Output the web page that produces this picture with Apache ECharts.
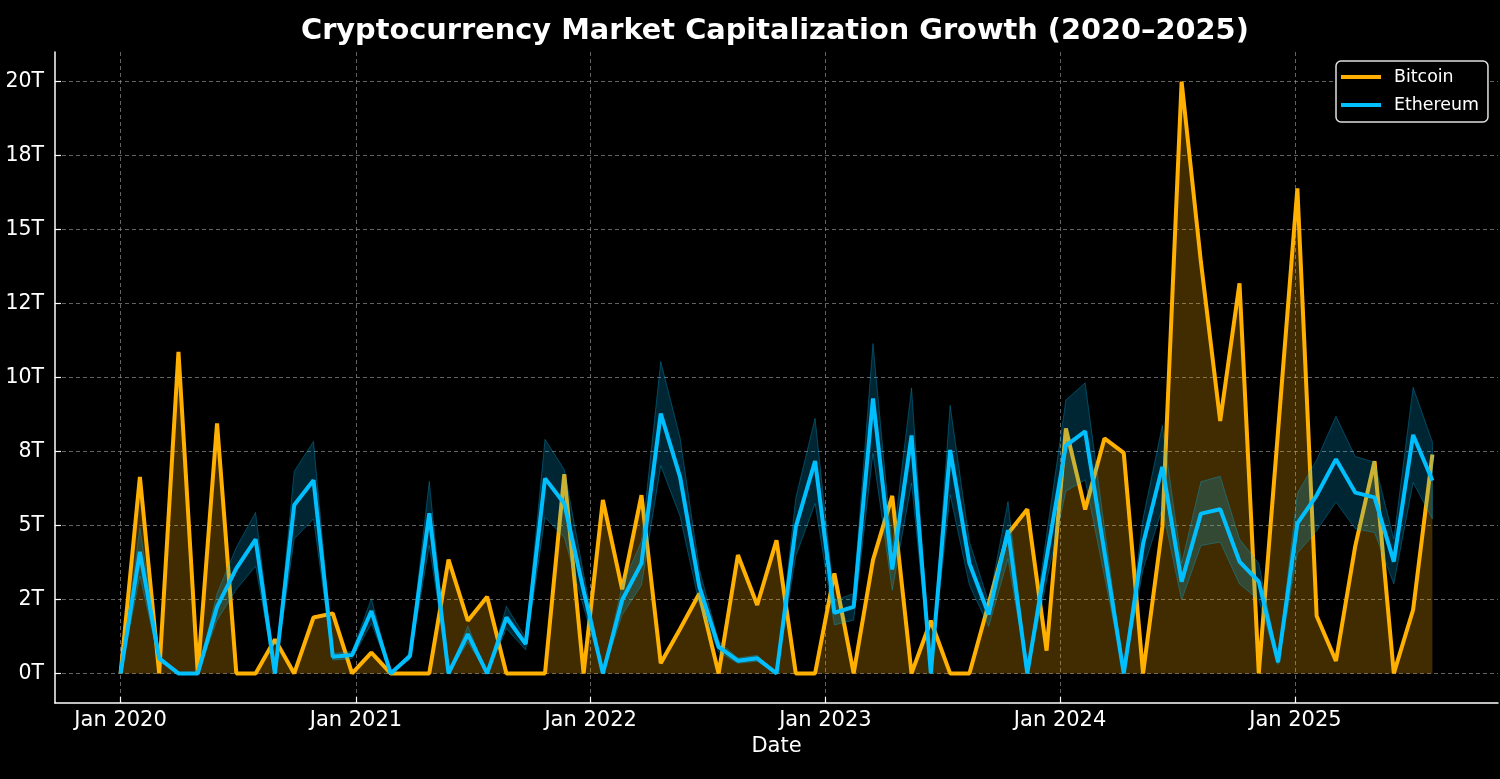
<!DOCTYPE html>
<html>
<head>
<meta charset="utf-8">
<script src="https://cdn.jsdelivr.net/npm/echarts@6/dist/echarts.min.js"></script>
<style>
html,body{margin:0;padding:0;background:#000;}
#chart{width:1500px;height:779px;}
</style>
</head>
<body>
<div id="chart"></div>
<script>
// ---- Data (samples 30 days apart, starting 2020-01-01) ----
const startDate = '2020-01-01';
const stepDays = 30;

const bitcoin = [0, 6.64, 0, 10.87, 0, 8.45, 0, 0, 1.15, 0, 1.89, 2.03, 0, 0.70, 0,
  0, 0, 3.85, 1.78, 2.59, 0, 0, 0, 6.73, 0, 5.86, 2.84, 6.02, 0.34, 1.5,
  2.70, 0, 4.0, 2.31, 4.5, 0, 0, 3.38, 0, 3.83, 6.0, 0, 1.78, 0, 0,
  2.36, 4.73, 5.55, 0.77, 8.28, 5.54, 7.94, 7.45, 0, 4.95, 20.0, 13.9, 8.53, 13.18, 0,
  8.2, 16.39, 1.94, 0.42, 4.3, 7.17, 0, 2.15, 7.4];

const ethereum = [0, 4.11, 0.51, 0, 0, 2.25, 3.55, 4.53, 0, 5.69, 6.53, 0.56, 0.62, 2.11, 0,
  0.59, 5.41, 0, 1.33, 0, 1.89, 0.99, 6.59, 5.74, 2.8, 0, 2.48, 3.72, 8.78, 6.64,
  2.93, 0.90, 0.43, 0.51, 0, 4.95, 7.18, 2.05, 2.25, 9.29, 3.51, 8.04, 0, 7.55, 3.72,
  1.99, 4.84, 0, 3.9, 7.7, 8.18, 4.1, 0, 4.37, 6.98, 3.1, 5.4, 5.55, 3.78, 3.1,
  0.38, 5.07, 6.02, 7.24, 6.11, 5.95, 3.78, 8.06, 6.52];

const ethereumHigh = [0, 4.93, 0.61, 0, 0, 2.7, 4.26, 5.44, 0, 6.83, 7.84, 0.67, 0.74, 2.53, 0,
  0.71, 6.49, 0, 1.6, 0, 2.27, 1.19, 7.91, 6.89, 3.36, 0, 2.98, 4.46, 10.54, 7.97,
  3.52, 1.08, 0.52, 0.61, 0, 5.94, 8.62, 2.46, 2.7, 11.15, 4.21, 9.65, 0, 9.06, 4.46,
  2.39, 5.81, 0, 4.68, 9.24, 9.82, 4.92, 0, 5.24, 8.38, 3.72, 6.48, 6.66, 4.54, 3.72,
  0.46, 6.08, 7.22, 8.69, 7.33, 7.14, 4.54, 9.67, 7.82];

const ethereumLow = [0, 3.29, 0.41, 0, 0, 1.8, 2.84, 3.62, 0, 4.55, 5.22, 0.45, 0.5, 1.69, 0,
  0.47, 4.33, 0, 1.06, 0, 1.51, 0.79, 5.27, 4.59, 2.24, 0, 1.98, 2.98, 7.02, 5.31,
  2.34, 0.72, 0.34, 0.41, 0, 3.96, 5.74, 1.64, 1.8, 7.43, 2.81, 6.43, 0, 6.04, 2.98,
  1.59, 3.87, 0, 3.12, 6.16, 6.54, 3.28, 0, 3.5, 5.58, 2.48, 4.32, 4.44, 3.02, 2.48,
  0.3, 4.06, 4.82, 5.79, 4.89, 4.76, 3.02, 6.45, 5.22];

const xTickDates = ['2020-01-01', '2021-01-01', '2022-01-01', '2023-01-01', '2024-01-01', '2025-01-01'];
const xTickLabels = ['Jan 2020', 'Jan 2021', 'Jan 2022', 'Jan 2023', 'Jan 2024', 'Jan 2025'];
const yTickValues = [0, 2.5, 5, 7.5, 10, 12.5, 15, 17.5, 20];
const yTickLabels = ['0T', '2T', '5T', '8T', '10T', '12T', '15T', '18T', '20T'];

// ---- Build ----
const DAY = 86400000;
const t0 = new Date(startDate).getTime();
const dates = bitcoin.map((_, i) => t0 + i * stepDays * DAY);
const xTickValues = xTickDates.map(d => new Date(d).getTime());
const xMin = t0 - 102 * DAY;
const xMax = t0 + 2142 * DAY;

const pair = arr => arr.map((v, i) => [dates[i], v]);

const FONT = 'DejaVu Sans';
const ORANGE = '#FFB000';
const CYAN = '#00BFFF';
const gridLine = { show: true, lineStyle: { color: 'rgba(150,150,150,0.65)', width: 1, type: [4, 3] } };

function renderBand(params, api) {
  if (params.dataIndex !== 0) return null;
  const pts = [];
  for (let i = 0; i < dates.length; i++) pts.push(api.coord([dates[i], ethereumHigh[i]]));
  for (let i = dates.length - 1; i >= 0; i--) pts.push(api.coord([dates[i], ethereumLow[i]]));
  return {
    type: 'polygon',
    shape: { points: pts },
    style: { fill: 'rgba(0,191,255,0.2)', stroke: 'rgba(0,191,255,0.3)', lineWidth: 1 },
    silent: true
  };
}

const chart = echarts.init(document.getElementById('chart'), null, { renderer: 'canvas' });
chart.setOption({
  backgroundColor: '#000',
  animation: false,
  textStyle: { fontFamily: FONT },
  title: {
    text: 'Cryptocurrency Market Capitalization Growth (2020–2025)',
    left: 301,
    top: 17,
    padding: 0,
    textStyle: { color: '#fff', fontSize: 28.8, fontWeight: 'bold', fontFamily: FONT }
  },
  legend: {
    data: ['Bitcoin', 'Ethereum'],
    orient: 'vertical',
    left: 1336,
    top: 61,
    padding: [7, 9, 8, 5],
    itemGap: 10,
    itemWidth: 40,
    itemHeight: 4,
    icon: 'rect',
    backgroundColor: '#000',
    borderColor: '#e0e0e0',
    borderWidth: 1.5,
    borderRadius: 5,
    textStyle: { color: '#fff', fontSize: 17.4, lineHeight: 18, fontFamily: FONT, padding: [0, 0, 0, 8] }
  },
  grid: { left: 55, right: 2, top: 52, bottom: 76, containLabel: false },
  xAxis: {
    type: 'value',
    min: xMin,
    max: xMax,
    name: 'Date',
    nameLocation: 'middle',
    nameGap: 33,
    nameTextStyle: { color: '#fff', fontSize: 21, fontFamily: FONT },
    axisLine: { show: true, onZero: false, lineStyle: { color: '#fff', width: 1.5 } },
    axisTick: { show: true, inside: true, length: 6, customValues: xTickValues, lineStyle: { color: '#fff', width: 1.2 } },
    axisLabel: {
      color: '#fff', fontSize: 21, fontFamily: FONT, margin: 7,
      customValues: xTickValues,
      formatter: v => { const k = xTickValues.indexOf(v); return k >= 0 ? xTickLabels[k] : ''; }
    },
    splitLine: gridLine
  },
  yAxis: {
    type: 'value',
    min: -1,
    max: 21,
    axisLine: { show: true, onZero: false, lineStyle: { color: '#fff', width: 1.5 } },
    axisTick: { show: true, inside: true, length: 6, customValues: yTickValues, lineStyle: { color: '#fff', width: 1.2 } },
    axisLabel: {
      color: '#fff', fontSize: 20.5, fontFamily: FONT, margin: 11,
      customValues: yTickValues,
      formatter: v => { const k = yTickValues.indexOf(v); return k >= 0 ? yTickLabels[k] : ''; }
    },
    splitLine: gridLine
  },
  series: [
    {
      name: 'Bitcoin',
      type: 'line',
      data: pair(bitcoin),
      showSymbol: false,
      lineStyle: { color: ORANGE, width: 4 },
      itemStyle: { color: ORANGE },
      areaStyle: { color: ORANGE, opacity: 0.25, origin: 0 },
      z: 2
    },
    {
      name: 'EthereumBand',
      type: 'custom',
      renderItem: renderBand,
      data: [[dates[0], ethereumLow[0]]],
      encode: { x: 0, y: 1 },
      silent: true,
      z: 3
    },
    {
      name: 'Ethereum',
      type: 'line',
      data: pair(ethereum),
      showSymbol: false,
      lineStyle: { color: CYAN, width: 4 },
      itemStyle: { color: CYAN },
      z: 4
    }
  ]
});
</script>
</body>
</html>
